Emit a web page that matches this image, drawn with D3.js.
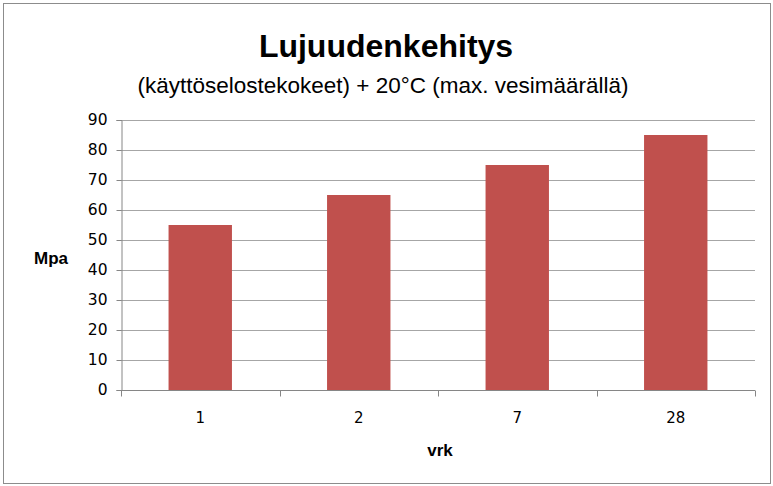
<!DOCTYPE html>
<html><head><meta charset="utf-8">
<script src="https://cdn.jsdelivr.net/npm/d3@7"></script>
<style>body{margin:0;background:#fff}svg{display:block}</style>
</head><body>
<script>
const categories = ["1", "2", "7", "28"];
const values = [55, 65, 75, 85];
const yTicks = [0, 10, 20, 30, 40, 50, 60, 70, 80, 90];
const title = "Lujuudenkehitys";
const subtitle = "(käyttöselostekokeet) + 20°C (max. vesimäärällä)";
const yLabel = "Mpa";
const xLabel = "vrk";

(function () {
const W = 773, H = 486;
const svg = d3.select("body").append("svg").attr("width", W).attr("height", H);
svg.append("rect").attr("x", 3.5).attr("y", 3.5).attr("width", W - 6).attr("height", H - 6)
  .attr("fill", "#fff").attr("stroke", "#8c8c8c").attr("stroke-width", 1);

const pL = 121, pR = 755, pT = 120, pB = 390;
const x = d3.scaleBand().domain(categories).range([pL, pR]).paddingInner(0.6).paddingOuter(0.3);
const y = d3.scaleLinear().domain([0, 90]).range([pB, pT]);

svg.append("g").selectAll("line").data(yTicks.filter(d => d > 0)).join("line")
  .attr("x1", pL).attr("x2", pR)
  .attr("y1", d => Math.round(y(d)) + 0.5).attr("y2", d => Math.round(y(d)) + 0.5)
  .attr("stroke", "#a6a6a6").attr("stroke-width", 1);

svg.append("g").selectAll("rect").data(values).join("rect")
  .attr("x", (d, i) => x(categories[i]))
  .attr("width", x.bandwidth())
  .attr("y", d => y(d)).attr("height", d => y(0) - y(d))
  .attr("fill", "#c0504d");

const yAxis = svg.append("g").attr("transform", `translate(${pL + 0.5},0)`)
  .call(d3.axisLeft(y).tickValues(yTicks).tickSize(5).tickPadding(9));
yAxis.select(".domain").attr("stroke", "#868686");
yAxis.selectAll(".tick line").attr("stroke", "#868686");
yAxis.selectAll("text").attr("font-family", "DejaVu Sans, Verdana, sans-serif")
  .attr("font-size", 15.5).attr("fill", "#000");

const xAxis = svg.append("g").attr("transform", `translate(0,${pB + 0.5})`)
  .call(d3.axisBottom(x).tickSize(0).tickPadding(22));
xAxis.select(".domain").attr("stroke", "#868686").attr("d", `M${pL},0H${pR}`);
xAxis.selectAll("text").attr("font-family", "DejaVu Sans, Verdana, sans-serif")
  .attr("font-size", 15).attr("fill", "#000");
const bounds = d3.range(categories.length + 1).map(i => pL + i * (pR - pL) / categories.length);
xAxis.selectAll(".bt").data(bounds).join("line").attr("class", "bt")
  .attr("x1", d => Math.round(d) + 0.5).attr("x2", d => Math.round(d) + 0.5)
  .attr("y1", 0).attr("y2", 6).attr("stroke", "#868686");

svg.append("text").attr("x", 386).attr("y", 57).attr("text-anchor", "middle")
  .attr("font-family", "Liberation Sans, Arial, sans-serif")
  .attr("font-weight", "bold").attr("font-size", 32).attr("fill", "#000").text(title);
svg.append("text").attr("x", 383).attr("y", 93).attr("text-anchor", "middle")
  .attr("font-family", "Liberation Sans, Arial, sans-serif")
  .attr("font-size", 22.5).attr("fill", "#000").text(subtitle);
svg.append("text").attr("x", 51).attr("y", 264).attr("text-anchor", "middle")
  .attr("font-family", "Liberation Sans, Arial, sans-serif")
  .attr("font-weight", "bold").attr("font-size", 17).attr("fill", "#000").text(yLabel);
svg.append("text").attr("x", 440).attr("y", 456).attr("text-anchor", "middle")
  .attr("font-family", "Liberation Sans, Arial, sans-serif")
  .attr("font-weight", "bold").attr("font-size", 17).attr("fill", "#000").text(xLabel);
})();
</script>
</body></html>
